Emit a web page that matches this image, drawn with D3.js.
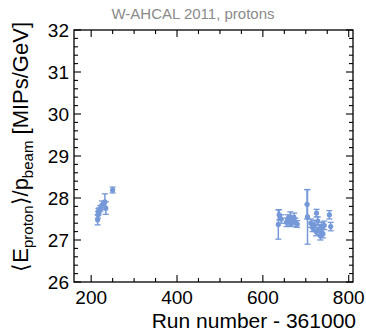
<!DOCTYPE html>
<html>
<head>
<meta charset="utf-8">
<script src="https://cdn.jsdelivr.net/npm/d3@7"></script>
<style>
  body { margin: 0; background: #fff; }
  svg { display: block; font-family: "Liberation Sans", Arial, sans-serif; }
</style>
</head>
<body>
<svg id="chart" width="366" height="332"></svg>
<script>
// run number - 361000, response, uncertainty
var runs = [215, 216, 217, 218, 221, 225, 232, 234, 250,
  636, 638, 643, 655, 658, 661, 664, 667, 670, 673, 676, 680,
  703, 704, 712, 716, 720, 724, 725, 728, 731, 734, 737, 740, 743, 755, 758];
var values = [27.48, 27.6, 27.67, 27.7, 27.75, 27.83, 27.91, 27.76, 28.19,
  27.37, 27.6, 27.5, 27.42, 27.5, 27.45, 27.55, 27.4, 27.48, 27.52, 27.42, 27.38,
  27.85, 27.55, 27.4, 27.3, 27.35, 27.2, 27.64, 27.45, 27.25, 27.1, 27.3, 27.15, 27.35, 27.6, 27.32];
var errors = [0.12, 0.08, 0.08, 0.06, 0.07, 0.1, 0.19, 0.15, 0.07,
  0.35, 0.12, 0.1, 0.1, 0.1, 0.1, 0.12, 0.08, 0.1, 0.12, 0.1, 0.08,
  0.35, 0.65, 0.1, 0.1, 0.12, 0.1, 0.09, 0.1, 0.12, 0.1, 0.12, 0.1, 0.1, 0.1, 0.1];

var xMajor = [200, 400, 600, 800];
var yMajor = [26, 27, 28, 29, 30, 31, 32];

var svg = d3.select("#chart");
var pLeft = 74, pRight = 353, pTop = 30, pBottom = 282;
var color = "#7598d8";

var x = d3.scaleLinear().domain([160, 810]).range([pLeft, pRight]);
var y = d3.scaleLinear().domain([26, 32]).range([pBottom, pTop]);

// frame
svg.append("rect")
  .attr("x", pLeft).attr("y", pTop)
  .attr("width", pRight - pLeft).attr("height", pBottom - pTop)
  .attr("fill", "none").attr("stroke", "#000").attr("stroke-width", 1.3);

// ticks (inside, on all four sides)
var xMinor = d3.range(200, 801, 50);
var yMinor = d3.range(26, 32.001, 0.2);
var ticks = svg.append("g").attr("stroke", "#000").attr("stroke-width", 1.1);
xMinor.forEach(function(v) {
  var len = xMajor.indexOf(v) >= 0 ? 7 : 4;
  ticks.append("line").attr("x1", x(v)).attr("x2", x(v)).attr("y1", pBottom).attr("y2", pBottom - len);
  ticks.append("line").attr("x1", x(v)).attr("x2", x(v)).attr("y1", pTop).attr("y2", pTop + len);
});
yMinor.forEach(function(v) {
  var major = Math.abs(v - Math.round(v)) < 1e-6;
  var len = major ? 7 : 4;
  ticks.append("line").attr("y1", y(v)).attr("y2", y(v)).attr("x1", pLeft).attr("x2", pLeft + len);
  ticks.append("line").attr("y1", y(v)).attr("y2", y(v)).attr("x1", pRight).attr("x2", pRight - len);
});

// tick labels
svg.selectAll(".xl").data(xMajor).enter().append("text")
  .attr("x", function(d) { return x(d); })
  .attr("y", pBottom + 22)
  .attr("text-anchor", "middle")
  .attr("font-size", 19)
  .text(function(d) { return d; });

svg.selectAll(".yl").data(yMajor).enter().append("text")
  .attr("x", pLeft - 5)
  .attr("y", function(d) { return y(d) + 7; })
  .attr("text-anchor", "end")
  .attr("font-size", 19)
  .text(function(d) { return d; });

// axis titles
svg.append("text")
  .attr("x", 356).attr("y", 328)
  .attr("text-anchor", "end")
  .attr("font-size", 21)
  .text("Run number - 361000");

var yt = svg.append("text")
  .attr("transform", "translate(28,22)rotate(-90)")
  .attr("text-anchor", "end")
  .attr("font-size", 22);
yt.append("tspan").text("\u27E8E");
yt.append("tspan").attr("font-size", 15).attr("dy", 5).text("proton");
yt.append("tspan").attr("dy", -5).text("\u27E9/p");
yt.append("tspan").attr("font-size", 15).attr("dy", 5).text("beam");
yt.append("tspan").attr("dy", -5).text(" [MIPs/GeV]");

// title
svg.append("text")
  .attr("x", 193).attr("y", 19)
  .attr("text-anchor", "middle")
  .attr("font-size", 15)
  .attr("fill", "#8a8a8a")
  .text("W-AHCAL 2011, protons");

// data
var pts = runs.map(function(r, i) { return { run: r, val: values[i], err: errors[i] }; });
var g = svg.append("g").attr("stroke", color).attr("fill", color);

g.selectAll(".eb").data(pts).enter().append("line")
  .attr("x1", function(d) { return x(d.run); })
  .attr("x2", function(d) { return x(d.run); })
  .attr("y1", function(d) { return y(d.val - d.err); })
  .attr("y2", function(d) { return y(d.val + d.err); })
  .attr("stroke-width", 1.5);

[-1, 1].forEach(function(s) {
  g.selectAll(".cap" + s).data(pts).enter().append("line")
    .attr("x1", function(d) { return x(d.run) - 3; })
    .attr("x2", function(d) { return x(d.run) + 3; })
    .attr("y1", function(d) { return y(d.val + s * d.err); })
    .attr("y2", function(d) { return y(d.val + s * d.err); })
    .attr("stroke-width", 1.3);
});

g.selectAll("circle").data(pts).enter().append("circle")
  .attr("cx", function(d) { return x(d.run); })
  .attr("cy", function(d) { return y(d.val); })
  .attr("r", 2.6)
  .attr("stroke", "none");
</script>
</body>
</html>
